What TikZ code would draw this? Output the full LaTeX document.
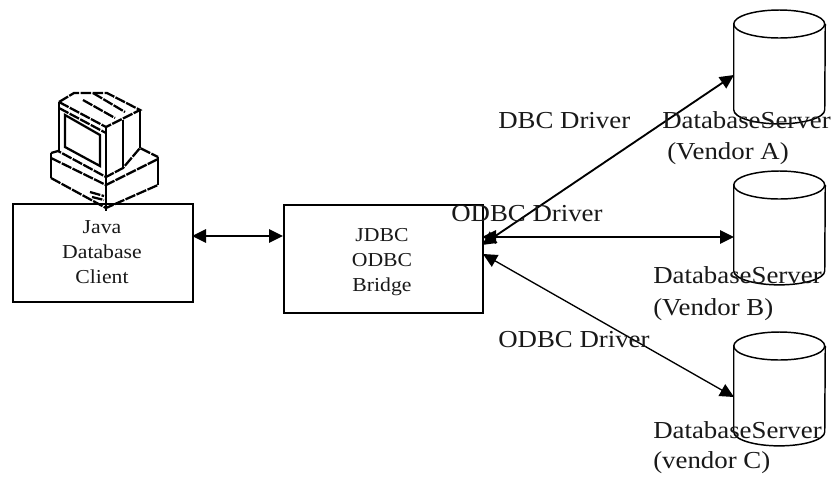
\documentclass[tikz,border=0pt]{standalone}
\usepackage{fontspec}
\setmainfont[FakeStretch=1.10]{Liberation Serif}
\usetikzlibrary{arrows.meta}
\tikzset{
  boxnode/.style={draw,line width=1.2pt,rectangle,inner sep=0pt,anchor=north west},
  boxtext/.style={align=center,inner sep=0pt,font=\fontsize{14.8}{18.7}\selectfont,text=black!90},
  lab/.style={anchor=base west,inner sep=0pt,font=\fontsize{18.3}{20}\selectfont,text=black!90},
  dbframe/.style={rectangle,minimum width=68.25pt,minimum height=85pt,inner sep=0pt,anchor=north},
  cylline/.style={line width=1.1pt},
  twoway/.style={{Triangle[length=10.5pt,width=10pt]}-{Triangle[length=10.5pt,width=10pt]},line width=1.4pt},
  twowayb/.style={{Triangle[length=10.5pt,width=10pt]}-{Triangle[length=10.5pt,width=10pt]},line width=1pt},
  pix/.style={line width=1.7pt,dash pattern=on 8pt off 1pt},
  pixs/.style={line width=1.7pt},
}
\newcommand{\dbdraw}[1]{%
  \draw[cylline] ([yshift=-10.5pt]#1.north west) arc[start angle=180,end angle=-180,x radius=34.125pt,y radius=10.5pt];
  \draw[cylline] ([yshift=-10.5pt]#1.north west) -- ([yshift=10.5pt]#1.south west)
    arc[start angle=180,end angle=360,x radius=34.125pt,y radius=10.5pt] -- ([yshift=-10.5pt]#1.north east);
}
\begin{document}
\begin{tikzpicture}[x=0.75pt,y=-0.75pt]
\useasboundingbox[fill=white] (0,0) rectangle (835,476);
% boxes
\node[boxnode,minimum width=135pt,minimum height=73.5pt] (client) at (12,203) {};
\node[boxtext] (clienttext) at (102,252) {Java\\Database\\Client};
\node[boxnode,minimum width=149.25pt,minimum height=81pt] (bridge) at (283,204) {};
\node[boxtext] (bridgetext) at (382,262) {JDBC\\ODBC\\Bridge};
% cylinders
\node[dbframe] (dba) at (779.5,10) {};
\node[dbframe] (dbb) at (779.5,171) {};
\node[dbframe] (dbc) at (779.5,332) {};
\dbdraw{dba}
\dbdraw{dbb}
\dbdraw{dbc}
% connector ends
\coordinate (ea) at (734,75);
\coordinate (eb) at (734,237);
\coordinate (ec) at (734,397);
\coordinate (sa) at (482,245);
\coordinate (sb) at (482,237);
\coordinate (sc) at (483,254);
\coordinate (cl) at (192,236);
\coordinate (br) at (283,236);
\draw[twoway] (cl) -- (br);
\draw[twoway] (sa) -- (ea);
\draw[twoway] (sb) -- (eb);
\draw[twowayb] (sc) -- (ec);
% labels
\node[lab] (l1) at (498,128) {DBC Driver};
\node[lab] (l2) at (451,221) {ODBC Driver};
\node[lab] (l3) at (498,347) {ODBC Driver};
\node[lab] (a1) at (662,128) {DatabaseServer};
\node[lab] (a2) at (667,159) {(Vendor A)};
\node[lab] (b1) at (653,283) {DatabaseServer};
\node[lab] (b2) at (653,315) {(Vendor B)};
\node[lab] (c1) at (653,438) {DatabaseServer};
\node[lab] (c2) at (653,468) {(vendor C)};
% computer
\draw[pix] (59,102) -- (74,93) -- (107,93) -- (140,110) -- (106,127) -- cycle;
\draw[pix] (93,93) -- (125,112);
\draw[pix] (83,100) -- (115,118);
\draw[pixs] (59,102) -- (59,151);
\draw[pixs] (106,127) -- (106,178);
\draw[pixs] (140,110) -- (140,148);
\draw[pixs] (123,120) -- (123,167);
\draw[pix] (59,108) -- (106,133);
\draw[pixs] (65,115) -- (100,135) -- (100,166) -- (65,147) -- cycle;
\draw[pix] (51,153) -- (58,151) -- (106,177) -- (123,168) -- (140,148) -- (158,157);
\draw[pixs] (51,153) -- (51,178);
\draw[pix] (51,158) -- (106,185) -- (158,159);
\draw[pixs] (158,157) -- (158,185);
\draw[pix] (51,178) -- (106,208) -- (158,185);
\draw[pixs] (106,178) -- (106,211);
\draw[pix] (90,192) -- (104,196);
\draw[pix] (92,197) -- (104,200);
\end{tikzpicture}
\end{document}
